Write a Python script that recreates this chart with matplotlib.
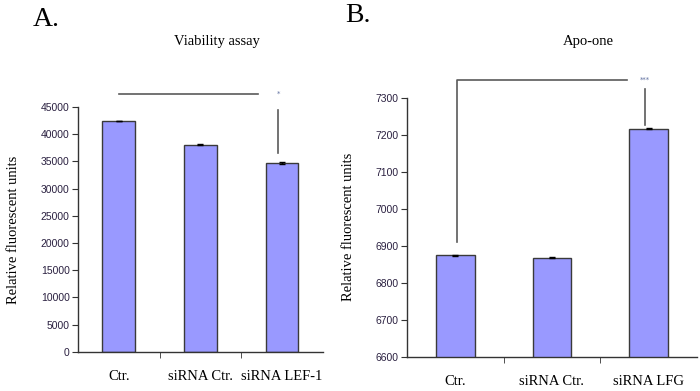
import matplotlib
matplotlib.use('Agg')
import matplotlib.pyplot as plt

# Panel A: viability assay
cats_a = ['Ctr.', 'siRNA Ctr.', 'siRNA LEF-1']
vals_a = [42400, 38100, 34700]
errs_a = [0, 120, 120]

# Panel B: Apo-one
cats_b = ['Ctr.', 'siRNA Ctr.', 'siRNA LFG']
vals_b = [6875, 6868, 7217]
errs_b = [1.5, 1.5, 1.5]

bar_color = '#9999FF'
edge_color = '#3a3a3a'
line_color = '#5a5a5a'
serif = ['Liberation Serif', 'DejaVu Serif']
sans = ['Liberation Sans', 'DejaVu Sans']

fig = plt.figure(figsize=(7, 3.91), dpi=100)
ax_a = fig.add_axes([0.1114, 0.1005, 0.35, 0.6255])
ax_b = fig.add_axes([0.5814, 0.0877, 0.4143, 0.6617])


def style_axis(ax, cats, ylim, yticks):
    ax.set_xlim(-0.5, len(cats) - 0.5)
    ax.set_ylim(*ylim)
    ax.set_yticks(yticks)
    ax.set_yticklabels([str(t) for t in yticks], family=sans, fontsize=7.5,
                       color='#2a2040')
    ax.set_xticks(range(len(cats)))
    ax.set_xticklabels(cats, family=serif, fontsize=10.5)
    ax.tick_params(axis='x', length=0, pad=13)
    ax.set_xticks([i + 0.5 for i in range(len(cats) - 1)], minor=True)
    ax.tick_params(axis='x', which='minor', length=4, color='#333333')
    ax.tick_params(axis='y', length=4, color='#333333', pad=2)
    for s in ['top', 'right']:
        ax.spines[s].set_visible(False)
    for s in ['left', 'bottom']:
        ax.spines[s].set_color('#333333')
        ax.spines[s].set_linewidth(1.0)
    ax.set_ylabel('Relative fluorescent units', family=serif, fontsize=10.5)


# Panel A
ax_a.bar(range(3), vals_a, width=0.4, color=bar_color, edgecolor=edge_color,
         linewidth=1.0, yerr=errs_a, error_kw=dict(ecolor='black', capsize=2,
                                                  elinewidth=1))
style_axis(ax_a, cats_a, (0, 45000), list(range(0, 45001, 5000)))
ax_a.yaxis.labelpad = 15
ax_a.plot([0, 1.7], [47400, 47400], color=line_color, lw=1.2, clip_on=False)
ax_a.plot([1.95, 1.95], [44450, 36550], color=line_color, lw=1.2, clip_on=False)
ax_a.text(1.95, 47400, '*', ha='center', va='center', fontsize=5,
          color='#6070a0', clip_on=False)
fig.text(217 / 700, 1 - 42 / 391, 'Viability assay', ha='center', va='center',
         family=serif, fontsize=10.5)
fig.text(0.047, 0.95, 'A.', family=serif, fontsize=20, ha='left', va='center')

# Panel B
ax_b.bar(range(3), vals_b, width=0.4, color=bar_color, edgecolor=edge_color,
         linewidth=1.0, yerr=errs_b, error_kw=dict(ecolor='black', capsize=2,
                                                  elinewidth=1))
style_axis(ax_b, cats_b, (6600, 7300), list(range(6600, 7301, 100)))
ax_b.yaxis.labelpad = 15
ax_b.plot([0.02, 0.02, 1.775], [6911, 7350, 7350], color=line_color, lw=1.2,
          clip_on=False)
ax_b.plot([1.96, 1.96], [7323, 7228], color=line_color, lw=1.2, clip_on=False)
ax_b.text(1.96, 7350, '***', ha='center', va='center', fontsize=5,
          color='#6070a0', clip_on=False)
fig.text(588 / 700, 1 - 42 / 391, 'Apo-one', ha='center', va='center',
         family=serif, fontsize=10.5)
fig.text(0.493, 0.96, 'B.', family=serif, fontsize=20, ha='left', va='center')

plt.savefig('out.png', dpi=100)
plt.close()
